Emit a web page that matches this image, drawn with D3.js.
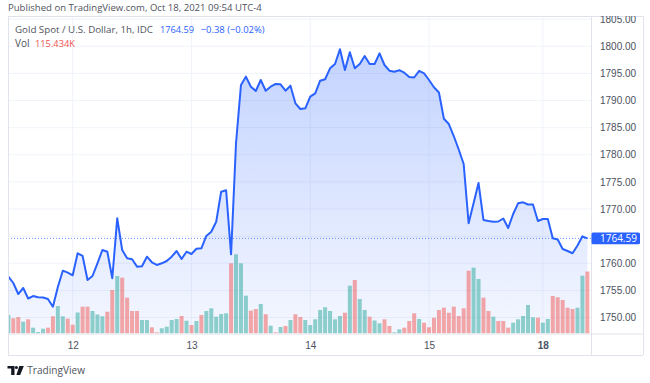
<!DOCTYPE html>
<html><head><meta charset="utf-8">
<script src="https://cdn.jsdelivr.net/npm/d3@7"></script>
<style>
body{margin:0;background:#fff;}
svg{display:block;font-family:"Open Sans","Noto Sans",sans-serif;}
</style>
</head><body><svg id="c" width="650" height="383"></svg>
<script>
// ---------- data (hourly, Oct 11 – Oct 18 2021) ----------
const closes = [
1757.52,1756.36,1754.33,1755.44,1753.50,1753.96,1753.72,1753.69,1753.41,1751.99,
1755.62,1758.63,1758.26,1757.78,1761.84,1761.34,1756.91,1757.65,1759.99,1762.44,
1762.13,1757.23,1768.29,1762.44,1760.91,1760.73,1759.37,1759.44,1761.21,1760.18,
1759.68,1759.99,1760.42,1761.21,1762.26,1760.79,1762.13,1761.71,1762.68,1762.76,
1765.03,1765.82,1767.66,1773.19,1773.45,1761.65,1782.12,1792.87,1794.40,1792.55,
1791.76,1793.79,1791.81,1792.55,1793.05,1792.99,1791.81,1792.74,1789.49,1788.44,
1788.57,1790.71,1791.33,1793.66,1793.92,1795.94,1796.74,1799.45,1795.63,1798.89,
1795.94,1796.74,1798.21,1796.74,1796.74,1798.71,1796.55,1795.50,1795.32,1795.59,
1795.13,1794.34,1794.25,1795.48,1795.02,1793.79,1792.44,1791.48,1786.65,1785.67,
1783.46,1780.97,1778.30,1767.37,1771.05,1774.80,1767.98,1767.79,1767.66,1767.70,
1768.25,1766.50,1769.08,1771.05,1771.24,1770.83,1770.83,1767.79,1768.16,1768.16,
1764.60,1764.38,1762.63,1762.26,1761.84,1763.27,1764.97,1764.59];
const volumes = [
34.4,28.3,30.7,22.0,26.4,10.8,2.8,8.9,10.8,32.0,
51.2,32.0,27.6,16.4,39.1,49.9,49.9,41.9,35.4,32.0,
40.6,81.0,107.1,103.9,66.7,41.9,41.9,25.1,25.1,11.5,
2.2,9.7,12.7,25.1,27.0,32.6,23.8,15.8,23.3,34.4,
41.9,46.9,31.3,36.3,37.6,130.7,147.5,130.7,70.4,42.5,
45.6,54.9,35.9,14.5,2.2,12.1,14.0,25.1,35.8,30.7,
25.1,15.8,26.4,43.8,48.8,41.9,26.4,32.6,38.7,89.0,
99.6,64.2,43.8,31.3,24.2,19.0,26.4,14.0,2.2,7.8,
10.8,23.3,37.6,27.0,20.1,11.5,29.4,43.8,48.0,38.7,
49.9,32.6,46.9,116.9,122.5,101.5,66.7,41.9,31.3,23.3,
23.3,10.8,20.1,26.4,32.6,53.1,30.2,29.4,20.1,27.0,
69.8,67.4,62.4,48.0,45.6,48.0,107.6,115.434];
const volumeDir = [
'u','d','d','u','d','u','u','u','d','d',
'u','u','d','d','u','d','d','u','u','u',
'd','d','u','d','d','d','d','u','u','d',
'd','u','u','u','u','d','u','d','u','d',
'u','u','u','u','u','d','u','u','u','d',
'd','u','d','u','d','u','d','u','d','d',
'u','u','u','u','u','u','u','u','d','u',
'd','u','u','d','u','u','d','d','u','u',
'd','d','d','u','d','d','d','d','d','d',
'd','d','d','d','u','u','d','d','u','d',
'd','d','u','u','u','u','u','d','u','u',
'd','d','d','d','d','u','u','d'];
const priceTicks = [1750,1755,1760,1765,1770,1775,1780,1785,1790,1795,1800,1805];
const dayLabels = ["12","13","14","15","18"];
const dayIndex = [13,37,61,85,108];
const lastPrice = 1764.59;
const titleText = "Published on TradingView.com, Oct 18, 2021 09:54 UTC-4";
const symbolText = "Gold Spot / U.S. Dollar, 1h, IDC";
const changeText = "\u22120.38 (\u22120.02%)";
const volText = "115.434K";

// ---------- layout ----------
const L = 8, R = 591.5, T = 16, B = 333.5, AX = 643, TB = 355;
const svg = d3.select("#c");
const x = d3.scaleLinear().domain([0, closes.length - 1]).range([8.36, 587.4]);
const y = d3.scaleLinear().domain([1750, 1800]).range([317.5, 46.3]);
const yv = d3.scaleLinear().domain([0, 115.434]).range([B, 271.5]);

const BLUE = "#2962ff", GRID = "#f0f3fa", BORDER = "#e0e3eb", TXT = "#4c525e";

function fit(sel, target, base) {
  const w = sel.node().getComputedTextLength();
  sel.style("font-size", (base * target / w).toFixed(2) + "px");
}

const defs = svg.append("defs");
defs.append("clipPath").attr("id", "pane").append("rect")
  .attr("x", L).attr("y", T).attr("width", R - L).attr("height", B - T);
defs.append("clipPath").attr("id", "axclip").append("rect")
  .attr("x", R).attr("y", T).attr("width", AX - R).attr("height", B - T);
const grad = defs.append("linearGradient").attr("id", "ag")
  .attr("gradientUnits", "userSpaceOnUse")
  .attr("x1", 0).attr("x2", 0).attr("y1", y(d3.max(closes))).attr("y2", B);
grad.append("stop").attr("offset", 0).attr("stop-color", BLUE).attr("stop-opacity", 0.28);
grad.append("stop").attr("offset", 1).attr("stop-color", BLUE).attr("stop-opacity", 0.05);

// grid
const pane = svg.append("g").attr("clip-path", "url(#pane)");
pane.selectAll(".hg").data(priceTicks).join("line")
  .attr("x1", L).attr("x2", R).attr("y1", d => y(d)).attr("y2", d => y(d))
  .attr("stroke", GRID).attr("stroke-width", 1);
pane.selectAll(".vg").data(dayIndex).join("line")
  .attr("x1", d => x(d)).attr("x2", d => x(d)).attr("y1", T).attr("y2", B)
  .attr("stroke", GRID).attr("stroke-width", 1);

// area
pane.append("path").datum(closes)
  .attr("d", d3.area().x((d, i) => x(i)).y0(B).y1(d => y(d)))
  .attr("fill", "url(#ag)");

// volume
pane.selectAll(".vb").data(volumes).join("rect")
  .attr("x", (d, i) => x(i) - 2).attr("width", 4)
  .attr("y", d => yv(d)).attr("height", d => B - yv(d))
  .attr("fill", (d, i) => volumeDir[i] === 'u' ? "rgba(38,166,154,0.5)" : "rgba(239,83,80,0.5)");

// price line dotted
pane.append("line").attr("x1", L).attr("x2", R)
  .attr("y1", y(lastPrice)).attr("y2", y(lastPrice))
  .attr("stroke", BLUE).attr("stroke-opacity", 0.7).attr("stroke-width", 1)
  .attr("stroke-dasharray", "1,2");

// line
pane.append("path").datum(closes)
  .attr("d", d3.line().x((d, i) => x(i)).y(d => y(d)))
  .attr("fill", "none").attr("stroke", BLUE).attr("stroke-width", 2)
  .attr("stroke-linejoin", "round");

// frame
const fr = svg.append("g").attr("stroke", BORDER).attr("stroke-width", 1).attr("fill", "none");
fr.append("line").attr("x1", L).attr("x2", AX).attr("y1", T + 0.5).attr("y2", T + 0.5);
fr.append("line").attr("x1", L).attr("x2", AX).attr("y1", B + 0.5).attr("y2", B + 0.5);
fr.append("line").attr("x1", L).attr("x2", AX).attr("y1", TB + 0.5).attr("y2", TB + 0.5);
fr.append("line").attr("x1", L + 0.5).attr("x2", L + 0.5).attr("y1", T).attr("y2", TB);
fr.append("line").attr("x1", R).attr("x2", R).attr("y1", T).attr("y2", TB);
fr.append("line").attr("x1", AX + 0.5).attr("x2", AX + 0.5).attr("y1", T).attr("y2", TB);

// price axis (labels hidden under the last-price marker are not drawn, as in TradingView)
const axisTicks = priceTicks.filter(t => Math.abs(y(t) - y(lastPrice)) > 9);
const ya = svg.append("g").attr("clip-path", "url(#axclip)").append("g")
  .attr("transform", `translate(${R},0)`)
  .call(d3.axisRight(y).tickValues(axisTicks).tickFormat(d3.format(".2f")).tickSize(0).tickPadding(8.5));
ya.select(".domain").remove();
ya.selectAll("text").attr("fill", TXT).style("font-size", "10px").attr("font-family", null);

// last price label
svg.append("rect").attr("x", R).attr("y", y(lastPrice) - 5.8).attr("width", 48.5).attr("height", 11.6)
  .attr("rx", 1.5).attr("fill", BLUE);
svg.append("text").attr("x", 600).attr("y", y(lastPrice)).attr("dy", "0.35em")
  .attr("fill", "#fff").style("font-size", "10px").text(d3.format(".2f")(lastPrice));

// time axis
const xa = svg.append("g").attr("transform", `translate(0,${B})`)
  .call(d3.axisBottom(x).tickValues(dayIndex).tickFormat((d, i) => dayLabels[i]).tickSize(0).tickPadding(8));
xa.select(".domain").remove();
xa.selectAll("text").attr("fill", TXT).style("font-size", "10px").attr("font-family", null)
  .style("font-weight", (d, i) => dayLabels[i] === "18" ? 700 : 400);

// header
const t1 = svg.append("text").attr("x", 8).attr("y", 7.5).attr("dy", "0.35em")
  .attr("fill", "#50535e").style("font-size", "10px").text(titleText);
fit(t1, 254, 10);
const t2 = svg.append("text").attr("x", 15).attr("y", 30).attr("dy", "0.35em")
  .attr("fill", "#50535e").style("font-size", "10px").text(symbolText);
fit(t2, 138, 10);
const t3 = svg.append("text").attr("x", 160).attr("y", 30).attr("dy", "0.35em")
  .attr("fill", BLUE).style("font-size", "10px").text(d3.format(".2f")(lastPrice));
fit(t3, 34, 10);
const t4 = svg.append("text").attr("x", 200.7).attr("y", 30).attr("dy", "0.35em")
  .attr("fill", BLUE).style("font-size", "10px").text(changeText);
fit(t4, 64, 10);
const t5 = svg.append("text").attr("x", 15).attr("y", 43.3).attr("dy", "0.35em")
  .attr("fill", "#50535e").style("font-size", "10px").text("Vol");
const t6 = svg.append("text").attr("x", 35).attr("y", 43.3).attr("dy", "0.35em")
  .attr("fill", "#ef5350").style("font-size", "10px").text(volText);
fit(t6, 40, 10);

// footer logo
const lg = svg.append("g").attr("fill", "#131722");
lg.append("path").attr("d", "M7.5,366 H14.5 V375 H11.2 V368.6 H7.5 Z");
lg.append("circle").attr("cx", 16.4).attr("cy", 367.6).attr("r", 1.5);
lg.append("path").attr("d", "M19.3,366 H23.8 L20.2,375 H16.4 Z");
const t7 = svg.append("text").attr("x", 27.3).attr("y", 370.5).attr("dy", "0.35em")
  .attr("fill", "#50535e").style("font-size", "11px").text("TradingView");
fit(t7, 57.7, 11);
</script></body></html>
